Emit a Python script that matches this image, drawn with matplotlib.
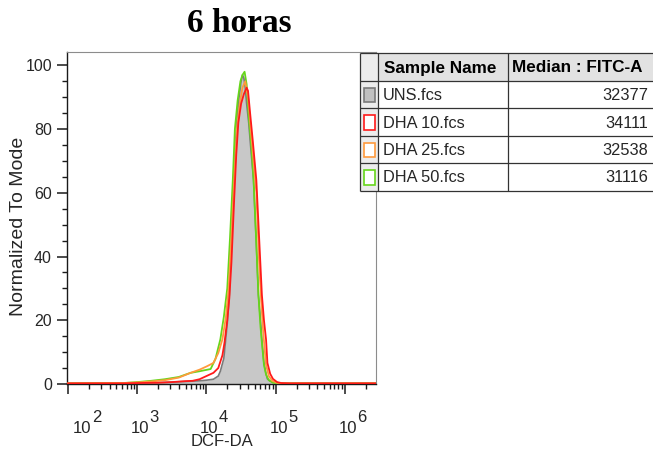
import numpy as np
import matplotlib.pyplot as plt
import matplotlib.transforms as mtransforms
from matplotlib.patches import Rectangle
from matplotlib.ticker import MultipleLocator, LogLocator, NullFormatter

plt.rcParams['font.family'] = ['Liberation Sans', 'DejaVu Sans']

# histogram traces, x as log10(DCF-DA), y normalized to mode
uns_logx = [2.0, 2.8, 3.0, 3.3, 3.5, 3.7, 3.9, 4.0, 4.1, 4.17, 4.2, 4.25, 4.3, 4.33, 4.36,
            4.39, 4.42, 4.44, 4.47, 4.5, 4.52, 4.54, 4.56, 4.58, 4.61, 4.64, 4.68, 4.72,
            4.75, 4.78, 4.8, 4.83, 4.86, 4.88, 4.92, 4.96, 5.1, 6.5]
uns_y = [0.2, 0.2, 0.3, 0.4, 0.6, 0.8, 1.0, 1.2, 1.5, 2.5, 4, 8, 19, 28, 45,
         64, 76, 83, 90, 95, 97, 96, 93, 88, 82, 74, 64, 44,
         28, 20, 14, 6.6, 3.2, 1.6, 0.9, 0.5, 0.2, 0.2]

dha10_logx = [2.0, 2.8, 3.0, 3.3, 3.5, 3.7, 3.8, 3.9, 4.0, 4.1, 4.17, 4.23, 4.26, 4.3,
              4.33, 4.36, 4.4, 4.43, 4.46, 4.5, 4.54, 4.58, 4.6, 4.63, 4.67, 4.72, 4.76,
              4.8, 4.83, 4.86, 4.88, 4.92, 4.96, 5.02, 5.08, 5.2, 6.5]
dha10_y = [0.2, 0.2, 0.3, 0.4, 0.6, 0.9, 1.0, 1.5, 2.5, 3.5, 5, 9, 13, 20,
           27, 38, 58, 72, 82, 88, 91, 93, 92, 85, 76, 64, 46,
           28, 20, 14, 6.6, 3.2, 1.6, 0.6, 0.3, 0.2, 0.2]

dha25_logx = [2.0, 2.8, 3.0, 3.2, 3.4, 3.6, 3.77, 3.9, 4.0, 4.1, 4.17, 4.23, 4.28, 4.32,
              4.36, 4.4, 4.44, 4.48, 4.52, 4.56, 4.6, 4.64, 4.68, 4.72, 4.76, 4.79, 4.82,
              4.86, 4.9, 4.95, 5.02, 5.1, 6.5]
dha25_y = [0.2, 0.3, 0.5, 0.8, 1.2, 2.0, 3.5, 4.5, 5.5, 6.6, 9.7, 14, 21, 30,
           46, 64, 80, 88, 93, 95, 90, 80, 70, 60, 38, 26, 16,
           6, 2.5, 1.0, 0.4, 0.2, 0.2]

dha50_logx = [2.0, 2.8, 3.0, 3.2, 3.4, 3.6, 3.77, 3.9, 4.06, 4.13, 4.2, 4.25, 4.3, 4.34,
              4.38, 4.41, 4.45, 4.49, 4.52, 4.55, 4.58, 4.61, 4.65, 4.68, 4.72, 4.75,
              4.78, 4.8, 4.83, 4.86, 4.9, 4.96, 5.1, 6.5]
dha50_y = [0.2, 0.3, 0.6, 1.0, 1.5, 2.2, 3.5, 4.0, 4.7, 7.9, 14, 21, 30, 46,
           64, 80, 89, 95, 97, 98, 94, 84, 74, 64, 44, 28,
           18, 13, 6, 3, 1.2, 0.4, 0.2, 0.2]

# legend table
sample_names = ['UNS.fcs', 'DHA 10.fcs', 'DHA 25.fcs', 'DHA 50.fcs']
medians = [32377, 34111, 32538, 31116]
line_colors = ['#7a7a7a', '#ff1a1a', '#ff9a3c', '#66d61a']
tick_exps = [2, 3, 4, 5, 6]

fig = plt.figure(figsize=(6.53, 4.54), dpi=100)
ax = fig.add_axes([67 / 653, 1 - 384 / 454, 309 / 653, 332 / 454])

ax.fill_between(10 ** np.array(uns_logx), uns_y, color='#c8c8c8', lw=0, zorder=1)
ax.plot(10 ** np.array(uns_logx), uns_y, color=line_colors[0], lw=1.2, zorder=2)
ax.plot(10 ** np.array(dha50_logx), dha50_y, color=line_colors[3], lw=1.3, zorder=3)
ax.plot(10 ** np.array(dha25_logx), dha25_y, color=line_colors[2], lw=1.3, zorder=4)
ax.plot(10 ** np.array(dha10_logx), dha10_y, color=line_colors[1], lw=1.3, zorder=5)

ax.set_xscale('log')
ax.set_xlim(10 ** 1.9856, 10 ** 6.448)
ax.set_ylim(0, 104.2)

ax.xaxis.set_major_locator(LogLocator(base=10, numticks=12))
ax.xaxis.set_minor_locator(LogLocator(base=10, subs=np.arange(2, 10), numticks=12))
ax.xaxis.set_major_formatter(NullFormatter())
ax.xaxis.set_minor_formatter(NullFormatter())
ax.yaxis.set_major_locator(MultipleLocator(20))
ax.yaxis.set_minor_locator(MultipleLocator(5))

ax.tick_params(which='major', direction='out', length=7.2, width=1.1, color='#1a1a1a',
               labelsize=11.5, labelcolor='#262626', pad=3.6)
ax.tick_params(which='minor', direction='out', length=3.6, width=1.0, color='#1a1a1a')

for side in ['left', 'bottom']:
    ax.spines[side].set_color('#1a1a1a')
    ax.spines[side].set_linewidth(1.0)
for side in ['top', 'right']:
    ax.spines[side].set_color('#8c8c8c')
    ax.spines[side].set_linewidth(0.8)

# decade labels: "10" plus a full-size exponent
for i, e in enumerate(tick_exps):
    shift = 11.5 if i == 0 else 0
    tr_base = mtransforms.offset_copy(ax.get_xaxis_transform(), fig=fig,
                                      x=3 + shift, y=-49, units='dots')
    tr_exp = mtransforms.offset_copy(ax.get_xaxis_transform(), fig=fig,
                                     x=12.5 + shift, y=-38, units='dots')
    ax.text(10 ** e, 0, '10', transform=tr_base, ha='center', va='baseline',
            fontsize=12, color='#262626', clip_on=False)
    ax.text(10 ** e, 0, str(e), transform=tr_exp, ha='left', va='baseline',
            fontsize=12, color='#262626', clip_on=False)

fig.text(239 / 653, 1 - 32 / 454, '6 horas', family='Liberation Serif', weight='bold',
         fontsize=24, ha='center', va='baseline')
fig.text(19 / 653, 1 - 226 / 454, 'Normalized To Mode', rotation=90, ha='center',
         va='center', fontsize=14, color='#262626')
fig.text(222 / 653, 1 - 442 / 454, 'DCF-DA', ha='center', va='center', fontsize=12,
         color='#262626')

# table drawn in pixel coordinates on an overlay axes
tab = fig.add_axes([0, 0, 1, 1], zorder=5)
tab.set_xlim(0, 653)
tab.set_ylim(454, 0)
tab.axis('off')
tab.patch.set_alpha(0)

col_x = [360, 378, 508, 653]
row_y = [53, 81, 108, 136, 163, 191]

tab.add_patch(Rectangle((col_x[0], row_y[0]), col_x[1] - col_x[0], row_y[-1] - row_y[0],
                        facecolor='#ececec', edgecolor='none'))
tab.add_patch(Rectangle((col_x[1], row_y[0]), col_x[3] - col_x[1], row_y[1] - row_y[0],
                        facecolor='#e2e2e2', edgecolor='none'))
for y in row_y:
    tab.plot([col_x[0], col_x[3]], [y, y], color='#333333', lw=0.9, solid_capstyle='butt')
for x in col_x[:3]:
    tab.plot([x, x], [row_y[0], row_y[-1]], color='#333333', lw=0.9, solid_capstyle='butt')

hy = (row_y[0] + row_y[1]) / 2 + 5.5
tab.text(384, hy, 'Sample Name', fontsize=12.3, weight='bold', va='baseline', ha='left')
tab.text(512, hy, 'Median : FITC-A', fontsize=12.3, weight='bold', va='baseline', ha='left')

for i, (name, med) in enumerate(zip(sample_names, medians)):
    top, bot = row_y[i + 1], row_y[i + 2]
    face = '#c0c0c0' if i == 0 else 'white'
    tab.add_patch(Rectangle((363.5, top + 6.5), 11, bot - top - 13, facecolor=face,
                            edgecolor=line_colors[i], lw=1.2))
    cy = (top + bot) / 2 + 5.5
    tab.text(383, cy, name, fontsize=11.8, va='baseline', ha='left', color='#262626')
    tab.text(648, cy, str(med), fontsize=11.8, va='baseline', ha='right', color='#262626')

fig.savefig('out.png', dpi=100)
